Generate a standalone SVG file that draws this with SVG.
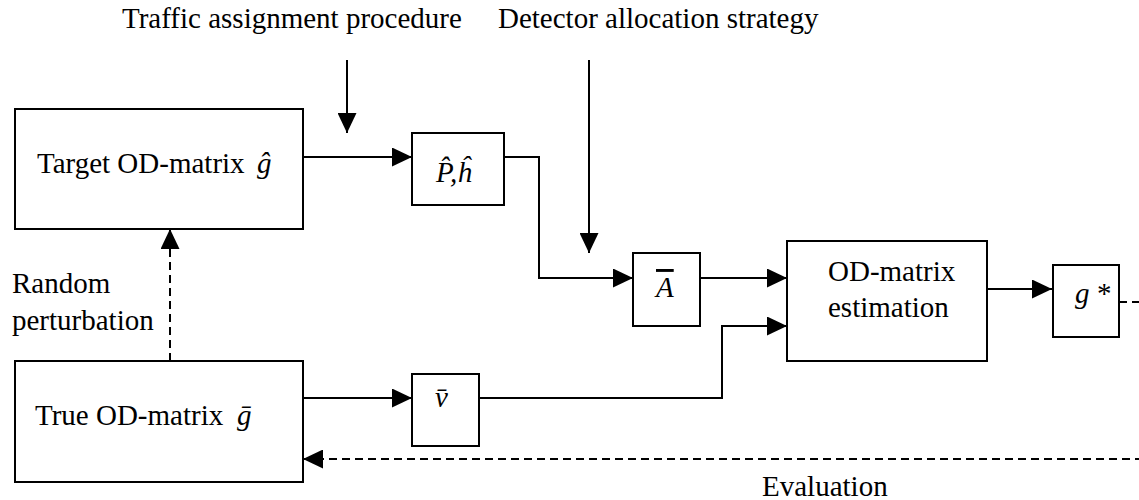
<svg xmlns="http://www.w3.org/2000/svg" width="1139" height="500" viewBox="0 0 1139 500">
<style>
text{font-family:"Liberation Serif","Times New Roman",serif;font-size:29px;fill:#000}
.it{font-style:italic}
.box{fill:#fff;stroke:#000;stroke-width:2}
.ln{fill:none;stroke:#000;stroke-width:2}
.dash{stroke-dasharray:8 5}
</style>
<defs>
<marker id="ah" markerUnits="userSpaceOnUse" markerWidth="20" markerHeight="19" refX="20" refY="9.5" orient="auto">
<path d="M0,0 L20,9.5 L0,19 Z" fill="#000"/>
</marker>
</defs>
<g id="labels">
<text x="122" y="28">Traffic assignment procedure</text>
<text x="498" y="28">Detector allocation strategy</text>
<text x="12" y="293">Random</text>
<text x="12" y="330">perturbation</text>
<text x="762" y="496">Evaluation</text>
</g>
<g id="connectors">
<path class="ln" d="M303,157 H412" marker-end="url(#ah)"/>
<path class="ln" d="M347,60 V133" marker-end="url(#ah)"/>
<path class="ln" d="M504,157 H539 V278 H633" marker-end="url(#ah)"/>
<path class="ln" d="M589,60 V253" marker-end="url(#ah)"/>
<path class="ln" d="M700,278 H787" marker-end="url(#ah)"/>
<path class="ln" d="M479,398 H722 V326 H787" marker-end="url(#ah)"/>
<path class="ln" d="M987,289 H1052" marker-end="url(#ah)"/>
<path class="ln" d="M303,398 H412" marker-end="url(#ah)"/>
<path class="ln dash" d="M170,361 V229" marker-end="url(#ah)"/>
<path class="ln dash" d="M1119,302 H1150 V459 H303" marker-end="url(#ah)"/>
</g>
<g id="target">
<rect class="box" x="15" y="109" width="288" height="120"/>
<text x="37" y="173">Target OD-matrix<tspan class="it" x="257">ĝ</tspan></text>
</g>
<g id="true">
<rect class="box" x="15" y="361" width="288" height="121"/>
<text x="35" y="425">True OD-matrix<tspan class="it" x="237">ḡ</tspan></text>
</g>
<g id="ph">
<rect class="box" x="412" y="133" width="92" height="72"/>
<text class="it" x="436" y="182">P̂,ĥ</text>
</g>
<g id="a">
<rect class="box" x="633" y="253" width="67" height="73"/>
<text class="it" x="656" y="297" text-decoration="overline">A</text>
</g>
<g id="v">
<rect class="box" x="412" y="374" width="67" height="72"/>
<text class="it" x="435" y="407">v̄</text>
</g>
<g id="od">
<rect class="box" x="787" y="241" width="200" height="120"/>
<text x="828" y="281">OD-matrix</text>
<text x="828" y="317">estimation</text>
</g>
<g id="gstar">
<rect class="box" x="1053" y="265" width="66" height="72"/>
<text class="it" x="1075" y="303">g<tspan class="" style="font-style:normal" x="1097">*</tspan></text>
</g>
</svg>
